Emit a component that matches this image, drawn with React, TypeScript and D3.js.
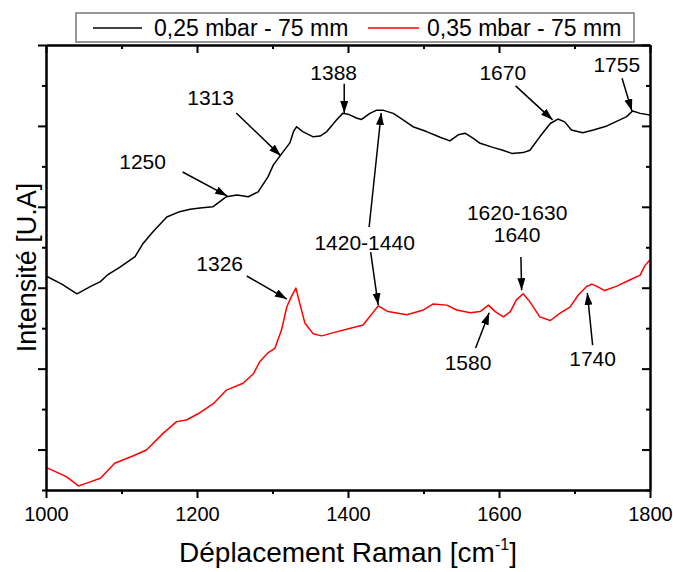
import React, { useEffect, useRef } from 'react';
import * as d3 from 'd3';

// Spectrum 1 : 0,25 mbar - 75 mm (black)
const blackShift = [
  1000, 1021, 1041, 1058, 1072, 1081, 1098, 1118, 1128, 1142, 1160, 1177, 1191, 1204, 1221,
  1239, 1253, 1268, 1281, 1294, 1301, 1310, 1323, 1328, 1332, 1340, 1354, 1363, 1372, 1385,
  1393, 1400, 1412, 1418, 1429, 1438, 1446, 1460, 1473, 1486, 1504, 1522, 1535, 1546, 1555,
  1566, 1575, 1592, 1605, 1617, 1632, 1641, 1654, 1668, 1678, 1687, 1696, 1711, 1725, 1743,
  1760, 1769, 1777, 1787, 1800
];
const blackIntensity = [
  529, 509, 485, 502, 515, 531, 551, 577, 608, 639, 675, 688, 694, 697, 700,
  725, 729, 725, 737, 774, 803, 826, 858, 887, 898, 886, 873, 875, 886, 915,
  931, 929, 919, 916, 931, 939, 939, 931, 915, 898, 886, 872, 863, 878, 882,
  869, 857, 847, 840, 832, 834, 840, 873, 906, 917, 910, 890, 883, 890, 900,
  915, 923, 937, 931, 927
];

// Spectrum 2 : 0,35 mbar - 75 mm (red)
const redShift = [
  1000, 1027, 1043, 1054, 1072, 1091, 1115, 1133, 1155, 1173, 1186, 1204, 1222, 1239, 1261,
  1275, 1283, 1294, 1303, 1312, 1319, 1325, 1331, 1336, 1343, 1354, 1365, 1381, 1402, 1420,
  1434, 1440, 1453, 1478, 1500, 1513, 1531, 1544, 1562, 1575, 1586, 1595, 1606, 1615, 1623,
  1632, 1641, 1654, 1668, 1681, 1694, 1705, 1716, 1723, 1729, 1740, 1756, 1773, 1787, 1793,
  1800
];
const redIntensity = [
  56, 33, 10, 17, 29, 66, 84, 99, 140, 169, 173, 191, 214, 247, 264,
  288, 317, 339, 350, 396, 453, 478, 499, 462, 412, 386, 381, 389, 399, 408,
  441, 455, 441, 433, 445, 460, 457, 445, 438, 441, 457, 441, 428, 441, 470,
  485, 465, 428, 419, 437, 452, 482, 503, 509, 504, 493, 504, 519, 531, 554,
  569
];

const seriesNames = ['0,25 mbar - 75 mm', '0,35 mbar - 75 mm'];
const seriesColors = ['#000000', '#ff0000'];

const xMajorTicks = [1000, 1200, 1400, 1600, 1800];
const xMinorTicks = [1100, 1300, 1500, 1700];
const yMajorTicks = [100, 300, 500, 700, 900, 1100];
const yMinorTicks = [0, 200, 400, 600, 800, 1000];

// peak labels: text anchor + arrows, in data units (shift, intensity)
interface PeakLabel {
  lines: string[];
  at: [number, number];
  arrows: [number, number, number, number][];
}
const peakLabels: PeakLabel[] = [
  { lines: ['1250'], at: [1128, 811], arrows: [[1181, 786, 1240, 727]] },
  { lines: ['1313'], at: [1218, 969], arrows: [[1252, 932, 1311, 826]] },
  { lines: ['1388'], at: [1381, 1031], arrows: [[1395, 1004, 1395, 932]] },
  { lines: ['1670'], at: [1605, 1031], arrows: [[1622, 999, 1671, 915]] },
  { lines: ['1755'], at: [1756, 1051], arrows: [[1763, 1018, 1776, 937]] },
  {
    lines: ['1420-1440'], at: [1422, 613],
    arrows: [[1428, 650, 1444, 932], [1430, 588, 1440, 457]]
  },
  { lines: ['1326'], at: [1230, 561], arrows: [[1266, 529, 1319, 472]] },
  { lines: ['1620-1630', '1640'], at: [1624, 660], arrows: [[1629, 576, 1630, 494]] },
  { lines: ['1580'], at: [1559, 316], arrows: [[1569, 351, 1587, 438]] },
  { lines: ['1740'], at: [1724, 324], arrows: [[1724, 358, 1717, 487]] }
];

const WIDTH = 673;
const HEIGHT = 572;
const FONT = '"Liberation Sans", Arial, Helvetica, sans-serif';

const RamanChart: React.FC = () => {
  const svgRef = useRef<SVGSVGElement>(null);

  useEffect(() => {
    if (!svgRef.current) return;
    const svg = d3.select(svgRef.current);
    svg.selectAll('*').remove();

    const left = 46, right = 650, top = 45, bottom = 490;

    const x = d3.scaleLinear().domain([1000, 1800]).range([left, right]);
    const y = d3.scaleLinear().domain([0, 1100]).range([bottom, top]);

    // arrow head
    svg.append('defs')
      .append('marker')
      .attr('id', 'arrowHead')
      .attr('markerUnits', 'userSpaceOnUse')
      .attr('markerWidth', 13)
      .attr('markerHeight', 8)
      .attr('refX', 12)
      .attr('refY', 4)
      .attr('orient', 'auto')
      .append('path')
      .attr('d', 'M0,0 L12,4 L0,8 Z')
      .attr('fill', '#000');

    // curves
    const line = d3.line<[number, number]>()
      .x(d => x(d[0]))
      .y(d => y(d[1]));

    const series: [number, number][][] = [
      blackShift.map((s, i) => [s, blackIntensity[i]] as [number, number]),
      redShift.map((s, i) => [s, redIntensity[i]] as [number, number])
    ];

    series.forEach((pts, i) => {
      svg.append('path')
        .datum(pts)
        .attr('d', line)
        .attr('fill', 'none')
        .attr('stroke', seriesColors[i])
        .attr('stroke-width', 1.5)
        .attr('stroke-linejoin', 'round');
    });

    // axes
    const styleAxis = (g: d3.Selection<SVGGElement, unknown, null, undefined>) => {
      g.select('.domain').attr('stroke-width', 2);
      g.selectAll('line').attr('stroke-width', 2);
      g.selectAll('text')
        .attr('font-family', FONT)
        .attr('font-size', 20)
        .attr('fill', '#000');
    };

    svg.append('g')
      .attr('transform', `translate(0,${bottom})`)
      .call(d3.axisBottom(x).tickValues(xMajorTicks).tickSize(8).tickSizeOuter(0)
        .tickPadding(9).tickFormat(d3.format('d')))
      .call(styleAxis);
    svg.append('g')
      .attr('transform', `translate(0,${bottom})`)
      .call(d3.axisBottom(x).tickValues(xMinorTicks).tickSize(4).tickSizeOuter(0).tickFormat(() => ''))
      .call(styleAxis);

    svg.append('g')
      .attr('transform', `translate(0,${top})`)
      .call(d3.axisBottom(x).tickValues(xMajorTicks).tickSize(8).tickSizeOuter(0).tickFormat(() => ''))
      .call(styleAxis);
    svg.append('g')
      .attr('transform', `translate(0,${top})`)
      .call(d3.axisBottom(x).tickValues(xMinorTicks).tickSize(4).tickSizeOuter(0).tickFormat(() => ''))
      .call(styleAxis);

    svg.append('g')
      .attr('transform', `translate(${left},0)`)
      .call(d3.axisLeft(y).tickValues(yMajorTicks).tickSize(8).tickSizeOuter(0).tickFormat(() => ''))
      .call(styleAxis);
    svg.append('g')
      .attr('transform', `translate(${left},0)`)
      .call(d3.axisLeft(y).tickValues(yMinorTicks).tickSize(4).tickSizeOuter(0).tickFormat(() => ''))
      .call(styleAxis);

    svg.append('g')
      .attr('transform', `translate(${right},0)`)
      .call(d3.axisLeft(y).tickValues(yMajorTicks).tickSize(8).tickSizeOuter(0).tickFormat(() => ''))
      .call(styleAxis);
    svg.append('g')
      .attr('transform', `translate(${right},0)`)
      .call(d3.axisLeft(y).tickValues(yMinorTicks).tickSize(4).tickSizeOuter(0).tickFormat(() => ''))
      .call(styleAxis);

    // peak annotations
    const ann = svg.append('g').attr('font-family', FONT).attr('font-size', 21);
    peakLabels.forEach(p => {
      const n = p.lines.length;
      p.lines.forEach((t, k) => {
        ann.append('text')
          .attr('x', x(p.at[0]))
          .attr('y', y(p.at[1]) + 7.5 + (k - (n - 1) / 2) * 22)
          .attr('text-anchor', 'middle')
          .text(t);
      });
      p.arrows.forEach(a => {
        ann.append('line')
          .attr('x1', x(a[0]))
          .attr('y1', y(a[1]))
          .attr('x2', x(a[2]))
          .attr('y2', y(a[3]))
          .attr('stroke', '#000')
          .attr('stroke-width', 1.5)
          .attr('marker-end', 'url(#arrowHead)');
      });
    });

    // axis titles
    const xTitle = svg.append('text')
      .attr('x', (left + right) / 2)
      .attr('y', 562)
      .attr('text-anchor', 'middle')
      .attr('font-family', FONT)
      .attr('font-size', 28);
    xTitle.append('tspan').text('Déplacement Raman [cm');
    xTitle.append('tspan').attr('font-size', 16).attr('dy', -12).text('-1');
    xTitle.append('tspan').attr('dy', 12).text(']');

    svg.append('text')
      .attr('transform', `translate(36,${(top + bottom) / 2}) rotate(-90)`)
      .attr('text-anchor', 'middle')
      .attr('font-family', FONT)
      .attr('font-size', 27)
      .text('Intensité [U.A]');

    // legend
    const legend = svg.append('g').attr('font-family', FONT).attr('font-size', 23);
    legend.append('rect')
      .attr('x', 76).attr('y', 13)
      .attr('width', 558).attr('height', 29)
      .attr('fill', '#fff')
      .attr('stroke', '#777')
      .attr('stroke-width', 1.5);
    const legendPos = [[93, 142, 154], [368, 419, 427]];
    seriesNames.forEach((name, i) => {
      const [l0, l1, tx] = legendPos[i];
      legend.append('line')
        .attr('x1', l0).attr('x2', l1)
        .attr('y1', 28).attr('y2', 28)
        .attr('stroke', seriesColors[i])
        .attr('stroke-width', 1.5);
      legend.append('text')
        .attr('x', tx)
        .attr('y', 36)
        .text(name);
    });
  }, []);

  return (
    <svg
      ref={svgRef}
      width={WIDTH}
      height={HEIGHT}
      style={{ position: 'absolute', left: 0, top: 0, background: '#fff' }}
    />
  );
};

export default function App() {
  return <RamanChart />;
}
